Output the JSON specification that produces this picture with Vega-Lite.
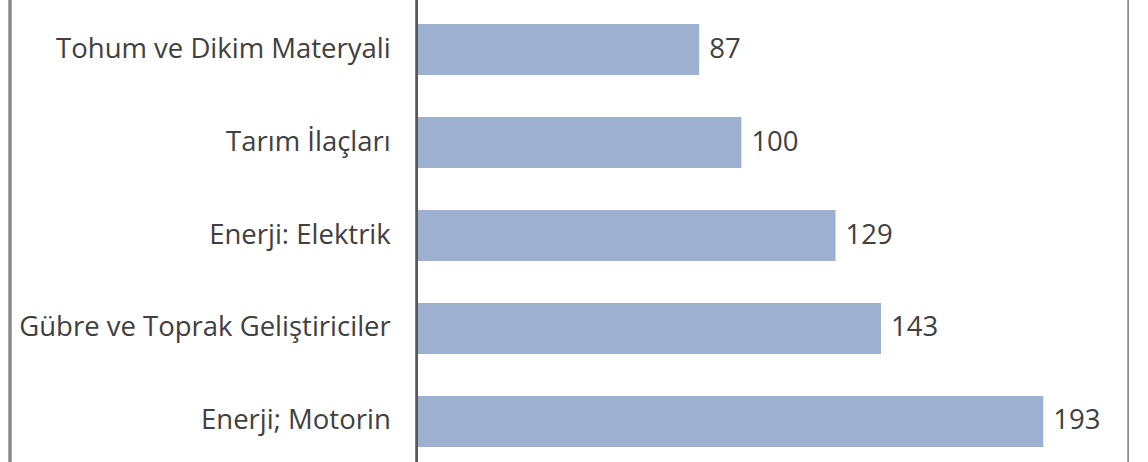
{
  "$schema": "https://vega.github.io/schema/vega-lite/v6.json",
  "autosize": "none",
  "padding": {"left": 10, "top": 0, "right": 0, "bottom": 0},
  "width": 1119,
  "height": 471,
  "background": "white",
  "config": {"view": {"stroke": null}},
  "data": {"values": [
    {"kategori": "Tohum ve Dikim Materyali", "deger": 87},
    {"kategori": "Tarım İlaçları", "deger": 100},
    {"kategori": "Enerji: Elektrik", "deger": 129},
    {"kategori": "Gübre ve Toprak Geliştiriciler", "deger": 143},
    {"kategori": "Enerji; Motorin", "deger": 193}
  ]},
  "layer": [
    {"mark": {"type": "bar", "color": "#9DB0CF"},
     "encoding": {
       "y": {"field": "kategori", "type": "nominal", "sort": null, "axis": null,
             "scale": {"paddingInner": 0.45, "paddingOuter": 0.258}},
       "x": {"field": "deger", "type": "quantitative", "axis": null,
             "scale": {"domain": [-125.3, 219.4], "nice": false, "zero": false}}}},
    {"mark": {"type": "text", "align": "right", "baseline": "middle", "dx": -26, "font": "Open Sans", "fontSize": 27.5, "color": "#404040"},
     "encoding": {
       "y": {"field": "kategori", "type": "nominal", "sort": null, "axis": null},
       "x": {"datum": 0, "type": "quantitative", "axis": null}, "text": {"field": "kategori"}}},
    {"mark": {"type": "text", "align": "left", "baseline": "middle", "dx": 10, "font": "Open Sans", "fontSize": 27.5, "color": "#404040"},
     "encoding": {
       "y": {"field": "kategori", "type": "nominal", "sort": null, "axis": null},
       "x": {"field": "deger", "type": "quantitative", "axis": null}, "text": {"field": "deger"}}},
    {"mark": {"type": "rule", "color": "#8c8c8c", "strokeWidth": 2.5},
     "encoding": {"x": {"datum": -125.3, "type": "quantitative", "axis": null}}},
    {"mark": {"type": "rule", "color": "#8c8c8c", "strokeWidth": 2.5},
     "encoding": {"x": {"datum": 219.4, "type": "quantitative", "axis": null}}},
    {"mark": {"type": "rule", "color": "#595959", "strokeWidth": 2},
     "encoding": {"x": {"datum": 0, "type": "quantitative", "axis": null}}}
  ]
}
